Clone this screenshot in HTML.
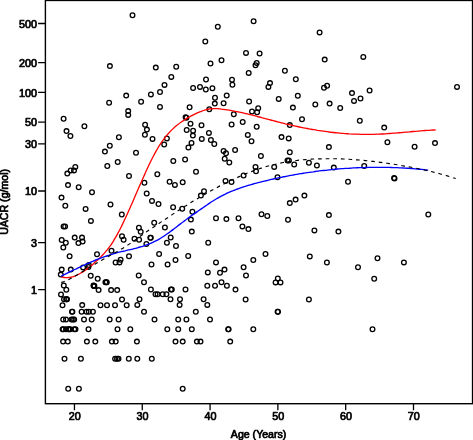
<!DOCTYPE html>
<html><head><meta charset="utf-8"><title>UACR vs Age</title>
<style>html,body{margin:0;padding:0;background:#fff;overflow:hidden}body{width:473px;height:440px;font-family:"Liberation Sans",sans-serif}svg{display:block}</style>
</head><body>
<svg width="473" height="440" viewBox="0 0 473 440">
<rect width="473" height="440" fill="#fff"/>
<g fill="none" stroke="#000" stroke-width="1.3"><circle cx="109.9" cy="66.1" r="2.35"/><circle cx="132.5" cy="15.3" r="2.35"/><circle cx="205.3" cy="41.5" r="2.35"/><circle cx="210.5" cy="63.5" r="2.35"/><circle cx="155.8" cy="67.6" r="2.35"/><circle cx="176.2" cy="66.7" r="2.35"/><circle cx="171.3" cy="76.9" r="2.35"/><circle cx="206.0" cy="79.5" r="2.35"/><circle cx="217.8" cy="26.7" r="2.35"/><circle cx="253.6" cy="21.3" r="2.35"/><circle cx="246.0" cy="52.9" r="2.35"/><circle cx="259.6" cy="53.5" r="2.35"/><circle cx="221.5" cy="60.2" r="2.35"/><circle cx="256.7" cy="62.9" r="2.35"/><circle cx="255.5" cy="65.3" r="2.35"/><circle cx="248.7" cy="72.9" r="2.35"/><circle cx="284.9" cy="70.7" r="2.35"/><circle cx="232.0" cy="79.8" r="2.35"/><circle cx="295.8" cy="79.2" r="2.35"/><circle cx="319.6" cy="32.4" r="2.35"/><circle cx="324.7" cy="59.6" r="2.35"/><circle cx="363.3" cy="56.9" r="2.35"/><circle cx="126.2" cy="95.6" r="2.35"/><circle cx="109.1" cy="102.7" r="2.35"/><circle cx="128.2" cy="111.1" r="2.35"/><circle cx="128.2" cy="114.9" r="2.35"/><circle cx="63.6" cy="118.7" r="2.35"/><circle cx="84.4" cy="126.2" r="2.35"/><circle cx="66.5" cy="131.1" r="2.35"/><circle cx="70.4" cy="136.0" r="2.35"/><circle cx="118.9" cy="137.3" r="2.35"/><circle cx="109.8" cy="145.8" r="2.35"/><circle cx="104.9" cy="151.6" r="2.35"/><circle cx="117.7" cy="162.0" r="2.35"/><circle cx="164.5" cy="84.9" r="2.35"/><circle cx="193.1" cy="88.0" r="2.35"/><circle cx="200.0" cy="86.9" r="2.35"/><circle cx="205.8" cy="89.5" r="2.35"/><circle cx="212.4" cy="88.2" r="2.35"/><circle cx="160.0" cy="92.0" r="2.35"/><circle cx="150.9" cy="94.4" r="2.35"/><circle cx="215.0" cy="97.7" r="2.35"/><circle cx="141.1" cy="101.8" r="2.35"/><circle cx="160.0" cy="106.9" r="2.35"/><circle cx="189.6" cy="107.3" r="2.35"/><circle cx="214.8" cy="103.6" r="2.35"/><circle cx="209.3" cy="109.3" r="2.35"/><circle cx="185.6" cy="117.2" r="2.35"/><circle cx="186.4" cy="117.8" r="2.35"/><circle cx="190.5" cy="123.8" r="2.35"/><circle cx="201.5" cy="125.3" r="2.35"/><circle cx="145.1" cy="124.7" r="2.35"/><circle cx="146.9" cy="129.6" r="2.35"/><circle cx="144.9" cy="134.7" r="2.35"/><circle cx="152.5" cy="138.9" r="2.35"/><circle cx="186.7" cy="130.0" r="2.35"/><circle cx="193.1" cy="130.7" r="2.35"/><circle cx="192.9" cy="135.6" r="2.35"/><circle cx="208.9" cy="132.9" r="2.35"/><circle cx="166.9" cy="138.4" r="2.35"/><circle cx="201.8" cy="138.9" r="2.35"/><circle cx="210.9" cy="140.0" r="2.35"/><circle cx="214.3" cy="144.0" r="2.35"/><circle cx="191.5" cy="142.9" r="2.35"/><circle cx="164.2" cy="144.5" r="2.35"/><circle cx="188.4" cy="147.5" r="2.35"/><circle cx="136.0" cy="152.7" r="2.35"/><circle cx="173.3" cy="161.0" r="2.35"/><circle cx="185.1" cy="159.5" r="2.35"/><circle cx="232.4" cy="84.7" r="2.35"/><circle cx="270.0" cy="83.1" r="2.35"/><circle cx="268.4" cy="86.9" r="2.35"/><circle cx="226.7" cy="95.5" r="2.35"/><circle cx="297.8" cy="95.8" r="2.35"/><circle cx="278.7" cy="98.9" r="2.35"/><circle cx="249.1" cy="101.5" r="2.35"/><circle cx="223.6" cy="103.3" r="2.35"/><circle cx="292.9" cy="107.6" r="2.35"/><circle cx="258.2" cy="108.2" r="2.35"/><circle cx="252.0" cy="111.5" r="2.35"/><circle cx="257.1" cy="112.2" r="2.35"/><circle cx="233.8" cy="114.2" r="2.35"/><circle cx="302.0" cy="119.2" r="2.35"/><circle cx="242.7" cy="122.0" r="2.35"/><circle cx="231.6" cy="124.5" r="2.35"/><circle cx="289.8" cy="125.1" r="2.35"/><circle cx="256.7" cy="126.7" r="2.35"/><circle cx="247.8" cy="134.9" r="2.35"/><circle cx="281.5" cy="137.1" r="2.35"/><circle cx="288.7" cy="138.4" r="2.35"/><circle cx="251.5" cy="141.3" r="2.35"/><circle cx="235.1" cy="150.0" r="2.35"/><circle cx="223.6" cy="150.9" r="2.35"/><circle cx="226.0" cy="153.3" r="2.35"/><circle cx="289.8" cy="152.2" r="2.35"/><circle cx="260.9" cy="156.0" r="2.35"/><circle cx="224.7" cy="158.7" r="2.35"/><circle cx="287.5" cy="160.4" r="2.35"/><circle cx="288.9" cy="160.4" r="2.35"/><circle cx="327.1" cy="85.8" r="2.35"/><circle cx="324.0" cy="87.8" r="2.35"/><circle cx="369.6" cy="90.5" r="2.35"/><circle cx="352.0" cy="93.1" r="2.35"/><circle cx="360.5" cy="98.5" r="2.35"/><circle cx="354.0" cy="100.9" r="2.35"/><circle cx="315.3" cy="104.5" r="2.35"/><circle cx="329.6" cy="103.6" r="2.35"/><circle cx="340.2" cy="108.0" r="2.35"/><circle cx="359.8" cy="120.7" r="2.35"/><circle cx="384.2" cy="127.6" r="2.35"/><circle cx="387.4" cy="142.2" r="2.35"/><circle cx="328.9" cy="147.1" r="2.35"/><circle cx="457.0" cy="86.9" r="2.35"/><circle cx="414.6" cy="146.7" r="2.35"/><circle cx="435.0" cy="143.1" r="2.35"/><circle cx="107.3" cy="166.0" r="2.35"/><circle cx="75.3" cy="166.9" r="2.35"/><circle cx="70.7" cy="170.4" r="2.35"/><circle cx="74.0" cy="170.4" r="2.35"/><circle cx="67.3" cy="173.6" r="2.35"/><circle cx="129.0" cy="176.0" r="2.35"/><circle cx="68.0" cy="185.1" r="2.35"/><circle cx="78.7" cy="187.3" r="2.35"/><circle cx="92.0" cy="192.2" r="2.35"/><circle cx="61.5" cy="197.6" r="2.35"/><circle cx="65.3" cy="205.8" r="2.35"/><circle cx="110.5" cy="204.5" r="2.35"/><circle cx="85.6" cy="208.9" r="2.35"/><circle cx="121.8" cy="214.5" r="2.35"/><circle cx="90.9" cy="220.9" r="2.35"/><circle cx="63.6" cy="226.4" r="2.35"/><circle cx="65.1" cy="226.4" r="2.35"/><circle cx="122.0" cy="236.3" r="2.35"/><circle cx="74.7" cy="237.6" r="2.35"/><circle cx="82.0" cy="237.6" r="2.35"/><circle cx="61.7" cy="240.0" r="2.35"/><circle cx="123.6" cy="239.8" r="2.35"/><circle cx="196.0" cy="171.8" r="2.35"/><circle cx="157.3" cy="174.2" r="2.35"/><circle cx="144.4" cy="182.7" r="2.35"/><circle cx="169.6" cy="181.8" r="2.35"/><circle cx="174.9" cy="184.9" r="2.35"/><circle cx="182.7" cy="182.2" r="2.35"/><circle cx="204.0" cy="191.3" r="2.35"/><circle cx="200.9" cy="195.6" r="2.35"/><circle cx="146.7" cy="193.5" r="2.35"/><circle cx="152.0" cy="200.9" r="2.35"/><circle cx="158.5" cy="204.0" r="2.35"/><circle cx="173.1" cy="207.3" r="2.35"/><circle cx="182.2" cy="208.7" r="2.35"/><circle cx="192.4" cy="211.8" r="2.35"/><circle cx="216.0" cy="218.3" r="2.35"/><circle cx="190.9" cy="219.6" r="2.35"/><circle cx="154.2" cy="222.7" r="2.35"/><circle cx="164.9" cy="227.5" r="2.35"/><circle cx="138.9" cy="227.8" r="2.35"/><circle cx="140.7" cy="231.8" r="2.35"/><circle cx="191.8" cy="231.6" r="2.35"/><circle cx="150.3" cy="237.8" r="2.35"/><circle cx="150.8" cy="237.8" r="2.35"/><circle cx="170.7" cy="237.5" r="2.35"/><circle cx="134.5" cy="238.8" r="2.35"/><circle cx="139.1" cy="239.7" r="2.35"/><circle cx="229.3" cy="162.5" r="2.35"/><circle cx="294.2" cy="164.5" r="2.35"/><circle cx="255.5" cy="166.9" r="2.35"/><circle cx="274.2" cy="166.9" r="2.35"/><circle cx="256.0" cy="171.3" r="2.35"/><circle cx="243.6" cy="175.5" r="2.35"/><circle cx="277.5" cy="177.3" r="2.35"/><circle cx="225.5" cy="180.9" r="2.35"/><circle cx="231.5" cy="182.0" r="2.35"/><circle cx="295.6" cy="199.6" r="2.35"/><circle cx="289.8" cy="203.1" r="2.35"/><circle cx="261.5" cy="214.2" r="2.35"/><circle cx="267.3" cy="216.0" r="2.35"/><circle cx="226.4" cy="219.1" r="2.35"/><circle cx="238.5" cy="218.2" r="2.35"/><circle cx="288.0" cy="219.8" r="2.35"/><circle cx="242.4" cy="226.4" r="2.35"/><circle cx="248.4" cy="229.1" r="2.35"/><circle cx="308.9" cy="162.7" r="2.35"/><circle cx="316.9" cy="165.5" r="2.35"/><circle cx="333.8" cy="167.6" r="2.35"/><circle cx="364.2" cy="166.0" r="2.35"/><circle cx="348.0" cy="181.8" r="2.35"/><circle cx="304.4" cy="195.6" r="2.35"/><circle cx="328.9" cy="215.1" r="2.35"/><circle cx="314.4" cy="230.4" r="2.35"/><circle cx="338.4" cy="231.6" r="2.35"/><circle cx="394.1" cy="178.0" r="2.35"/><circle cx="394.5" cy="178.5" r="2.35"/><circle cx="428.3" cy="214.5" r="2.35"/><circle cx="65.8" cy="242.8" r="2.35"/><circle cx="63.3" cy="247.5" r="2.35"/><circle cx="82.6" cy="241.6" r="2.35"/><circle cx="78.4" cy="243.1" r="2.35"/><circle cx="69.6" cy="256.2" r="2.35"/><circle cx="61.7" cy="269.6" r="2.35"/><circle cx="70.8" cy="269.6" r="2.35"/><circle cx="83.1" cy="267.4" r="2.35"/><circle cx="60.8" cy="274.6" r="2.35"/><circle cx="97.0" cy="254.2" r="2.35"/><circle cx="111.5" cy="250.7" r="2.35"/><circle cx="129.0" cy="256.2" r="2.35"/><circle cx="120.6" cy="259.8" r="2.35"/><circle cx="119.5" cy="262.4" r="2.35"/><circle cx="115.6" cy="262.5" r="2.35"/><circle cx="88.8" cy="265.1" r="2.35"/><circle cx="88.4" cy="266.9" r="2.35"/><circle cx="90.7" cy="275.7" r="2.35"/><circle cx="63.8" cy="285.5" r="2.35"/><circle cx="66.3" cy="289.8" r="2.35"/><circle cx="61.0" cy="294.4" r="2.35"/><circle cx="62.5" cy="305.3" r="2.35"/><circle cx="82.2" cy="305.1" r="2.35"/><circle cx="97.7" cy="278.7" r="2.35"/><circle cx="105.4" cy="282.2" r="2.35"/><circle cx="106.1" cy="282.2" r="2.35"/><circle cx="106.8" cy="282.2" r="2.35"/><circle cx="93.5" cy="285.6" r="2.35"/><circle cx="94.0" cy="285.8" r="2.35"/><circle cx="94.4" cy="286.0" r="2.35"/><circle cx="93.8" cy="286.1" r="2.35"/><circle cx="98.6" cy="290.1" r="2.35"/><circle cx="111.1" cy="290.1" r="2.35"/><circle cx="117.2" cy="290.1" r="2.35"/><circle cx="122.0" cy="299.5" r="2.35"/><circle cx="100.5" cy="305.3" r="2.35"/><circle cx="107.0" cy="305.3" r="2.35"/><circle cx="115.0" cy="305.3" r="2.35"/><circle cx="126.7" cy="305.3" r="2.35"/><circle cx="64.0" cy="299.3" r="2.35"/><circle cx="66.2" cy="299.3" r="2.35"/><circle cx="66.6" cy="299.3" r="2.35"/><circle cx="67.0" cy="299.3" r="2.35"/><circle cx="72.0" cy="311.7" r="2.35"/><circle cx="72.4" cy="311.7" r="2.35"/><circle cx="81.6" cy="311.7" r="2.35"/><circle cx="86.5" cy="311.7" r="2.35"/><circle cx="88.8" cy="311.7" r="2.35"/><circle cx="92.9" cy="311.7" r="2.35"/><circle cx="63.2" cy="319.5" r="2.35"/><circle cx="66.0" cy="319.5" r="2.35"/><circle cx="71.5" cy="319.5" r="2.35"/><circle cx="72.9" cy="319.5" r="2.35"/><circle cx="74.2" cy="319.5" r="2.35"/><circle cx="84.0" cy="319.5" r="2.35"/><circle cx="91.7" cy="319.5" r="2.35"/><circle cx="109.7" cy="319.5" r="2.35"/><circle cx="118.6" cy="319.5" r="2.35"/><circle cx="154.5" cy="319.5" r="2.35"/><circle cx="178.2" cy="319.5" r="2.35"/><circle cx="186.4" cy="319.5" r="2.35"/><circle cx="210.0" cy="319.5" r="2.35"/><circle cx="62.6" cy="329.2" r="2.35"/><circle cx="63.4" cy="329.2" r="2.35"/><circle cx="66.0" cy="329.2" r="2.35"/><circle cx="68.3" cy="329.2" r="2.35"/><circle cx="69.2" cy="329.2" r="2.35"/><circle cx="70.1" cy="329.2" r="2.35"/><circle cx="74.2" cy="329.2" r="2.35"/><circle cx="75.5" cy="329.2" r="2.35"/><circle cx="88.5" cy="329.2" r="2.35"/><circle cx="117.5" cy="329.2" r="2.35"/><circle cx="130.3" cy="329.2" r="2.35"/><circle cx="167.3" cy="329.2" r="2.35"/><circle cx="178.2" cy="329.2" r="2.35"/><circle cx="191.8" cy="329.2" r="2.35"/><circle cx="228.2" cy="329.2" r="2.35"/><circle cx="228.6" cy="329.2" r="2.35"/><circle cx="253.3" cy="329.2" r="2.35"/><circle cx="372.5" cy="329.2" r="2.35"/><circle cx="63.1" cy="341.6" r="2.35"/><circle cx="67.8" cy="341.6" r="2.35"/><circle cx="86.9" cy="341.6" r="2.35"/><circle cx="95.3" cy="341.6" r="2.35"/><circle cx="111.9" cy="341.6" r="2.35"/><circle cx="115.7" cy="341.6" r="2.35"/><circle cx="136.9" cy="341.6" r="2.35"/><circle cx="175.5" cy="341.6" r="2.35"/><circle cx="182.7" cy="341.6" r="2.35"/><circle cx="196.9" cy="341.6" r="2.35"/><circle cx="200.5" cy="341.6" r="2.35"/><circle cx="230.2" cy="341.6" r="2.35"/><circle cx="64.5" cy="358.7" r="2.35"/><circle cx="80.9" cy="358.7" r="2.35"/><circle cx="115.1" cy="358.7" r="2.35"/><circle cx="117.0" cy="358.7" r="2.35"/><circle cx="118.5" cy="358.7" r="2.35"/><circle cx="128.8" cy="358.7" r="2.35"/><circle cx="137.3" cy="358.7" r="2.35"/><circle cx="151.8" cy="358.7" r="2.35"/><circle cx="68.2" cy="388.7" r="2.35"/><circle cx="78.9" cy="388.7" r="2.35"/><circle cx="182.7" cy="388.7" r="2.35"/><circle cx="146.4" cy="244.0" r="2.35"/><circle cx="166.9" cy="242.7" r="2.35"/><circle cx="176.0" cy="246.0" r="2.35"/><circle cx="208.2" cy="242.7" r="2.35"/><circle cx="159.1" cy="254.0" r="2.35"/><circle cx="188.2" cy="256.0" r="2.35"/><circle cx="175.5" cy="260.0" r="2.35"/><circle cx="151.5" cy="264.5" r="2.35"/><circle cx="167.6" cy="264.5" r="2.35"/><circle cx="216.0" cy="262.4" r="2.35"/><circle cx="207.8" cy="272.4" r="2.35"/><circle cx="138.7" cy="275.5" r="2.35"/><circle cx="144.0" cy="282.2" r="2.35"/><circle cx="207.3" cy="285.8" r="2.35"/><circle cx="215.0" cy="285.8" r="2.35"/><circle cx="150.9" cy="289.5" r="2.35"/><circle cx="170.9" cy="289.5" r="2.35"/><circle cx="171.8" cy="289.5" r="2.35"/><circle cx="185.5" cy="289.5" r="2.35"/><circle cx="155.5" cy="294.2" r="2.35"/><circle cx="157.6" cy="294.2" r="2.35"/><circle cx="162.7" cy="294.2" r="2.35"/><circle cx="166.4" cy="294.2" r="2.35"/><circle cx="170.5" cy="299.3" r="2.35"/><circle cx="180.0" cy="299.3" r="2.35"/><circle cx="203.6" cy="299.3" r="2.35"/><circle cx="139.5" cy="299.3" r="2.35"/><circle cx="137.3" cy="304.9" r="2.35"/><circle cx="179.6" cy="304.9" r="2.35"/><circle cx="207.3" cy="304.9" r="2.35"/><circle cx="144.0" cy="311.8" r="2.35"/><circle cx="195.8" cy="311.8" r="2.35"/><circle cx="265.5" cy="254.0" r="2.35"/><circle cx="253.3" cy="260.0" r="2.35"/><circle cx="243.6" cy="267.3" r="2.35"/><circle cx="224.5" cy="269.6" r="2.35"/><circle cx="220.0" cy="272.7" r="2.35"/><circle cx="246.0" cy="275.5" r="2.35"/><circle cx="277.8" cy="278.5" r="2.35"/><circle cx="275.6" cy="282.4" r="2.35"/><circle cx="280.5" cy="282.4" r="2.35"/><circle cx="221.5" cy="282.2" r="2.35"/><circle cx="226.9" cy="285.8" r="2.35"/><circle cx="235.5" cy="289.6" r="2.35"/><circle cx="245.6" cy="299.5" r="2.35"/><circle cx="277.6" cy="311.8" r="2.35"/><circle cx="278.0" cy="311.8" r="2.35"/><circle cx="309.8" cy="256.4" r="2.35"/><circle cx="326.9" cy="262.5" r="2.35"/><circle cx="377.5" cy="258.2" r="2.35"/><circle cx="358.0" cy="267.3" r="2.35"/><circle cx="374.2" cy="278.7" r="2.35"/><circle cx="308.9" cy="299.5" r="2.35"/><circle cx="403.9" cy="262.4" r="2.35"/></g>
<path d="M61.3 276.8C62.0 276.9 64.0 277.5 65.3 277.6C66.6 277.7 68.0 277.7 69.3 277.5C70.6 277.3 72.0 277.0 73.3 276.6C74.6 276.1 76.0 275.6 77.3 275.0C78.6 274.4 80.0 273.6 81.3 272.8C82.6 272.0 84.0 271.2 85.3 270.2C86.6 269.3 88.0 268.3 89.3 267.2C90.6 266.2 92.0 265.1 93.3 263.9C94.6 262.7 96.0 261.5 97.3 260.3C98.6 259.0 100.0 257.7 101.3 256.4C102.6 255.0 104.0 253.6 105.3 252.1C106.6 250.6 108.0 249.0 109.3 247.2C110.6 245.4 112.0 243.4 113.3 241.3C114.6 239.1 116.0 236.8 117.3 234.4C118.6 232.0 120.0 229.4 121.3 226.7C122.6 224.0 124.0 221.2 125.3 218.3C126.6 215.5 128.0 212.5 129.3 209.5C130.6 206.5 132.0 203.5 133.3 200.4C134.6 197.3 136.0 194.2 137.3 191.1C138.6 188.1 140.0 185.0 141.3 181.9C142.6 178.9 144.0 175.9 145.3 172.9C146.6 170.0 148.0 167.1 149.3 164.3C150.6 161.5 152.0 158.8 153.3 156.3C154.6 153.7 156.0 151.3 157.3 149.0C158.6 146.8 160.0 144.6 161.3 142.7C162.6 140.7 164.0 138.9 165.3 137.2C166.6 135.5 168.0 133.9 169.3 132.5C170.6 131.0 172.0 129.7 173.3 128.4C174.6 127.2 176.0 126.0 177.3 125.0C178.6 123.9 180.0 122.9 181.3 122.0C182.6 121.0 184.0 120.2 185.3 119.4C186.6 118.5 188.0 117.8 189.3 117.0C190.6 116.3 192.0 115.6 193.3 114.9C194.6 114.2 196.0 113.5 197.3 112.9C198.6 112.3 200.0 111.8 201.3 111.3C202.6 110.8 204.0 110.3 205.3 109.9C206.6 109.6 208.0 109.2 209.3 109.0C210.6 108.8 212.0 108.7 213.3 108.6C214.6 108.6 216.0 108.6 217.3 108.7C218.6 108.8 220.0 108.9 221.3 109.1C222.6 109.2 224.0 109.4 225.3 109.6C226.6 109.8 228.0 110.0 229.3 110.2C230.6 110.4 232.0 110.7 233.3 110.9C234.6 111.2 236.0 111.4 237.3 111.7C238.6 112.0 240.0 112.2 241.3 112.5C242.6 112.8 244.0 113.1 245.3 113.5C246.6 113.8 248.0 114.1 249.3 114.4C250.6 114.7 252.0 115.1 253.3 115.4C254.6 115.8 256.0 116.1 257.3 116.5C258.6 116.8 260.0 117.2 261.3 117.5C262.6 117.9 264.0 118.2 265.3 118.6C266.6 118.9 268.0 119.3 269.3 119.6C270.6 120.0 272.0 120.4 273.3 120.7C274.6 121.1 276.0 121.4 277.3 121.8C278.6 122.1 280.0 122.4 281.3 122.8C282.6 123.1 284.0 123.4 285.3 123.8C286.6 124.1 288.0 124.4 289.3 124.7C290.6 125.0 292.0 125.3 293.3 125.6C294.6 125.9 296.0 126.2 297.3 126.5C298.6 126.8 300.0 127.1 301.3 127.3C302.6 127.6 304.0 127.9 305.3 128.1C306.6 128.4 308.0 128.6 309.3 128.9C310.6 129.1 312.0 129.4 313.3 129.6C314.6 129.8 316.0 130.0 317.3 130.3C318.6 130.5 320.0 130.7 321.3 130.9C322.6 131.1 324.0 131.3 325.3 131.4C326.6 131.6 328.0 131.8 329.3 132.0C330.6 132.1 332.0 132.3 333.3 132.5C334.6 132.6 336.0 132.7 337.3 132.9C338.6 133.0 340.0 133.1 341.3 133.3C342.6 133.4 344.0 133.5 345.3 133.6C346.6 133.7 348.0 133.8 349.3 133.9C350.6 133.9 352.0 134.0 353.3 134.1C354.6 134.1 356.0 134.2 357.3 134.2C358.6 134.3 360.0 134.3 361.3 134.3C362.6 134.4 364.0 134.4 365.3 134.4C366.6 134.4 368.0 134.4 369.3 134.4C370.6 134.4 372.0 134.4 373.3 134.3C374.6 134.3 376.0 134.3 377.3 134.2C378.6 134.2 380.0 134.1 381.3 134.0C382.6 134.0 384.0 133.9 385.3 133.8C386.6 133.7 388.0 133.6 389.3 133.5C390.6 133.4 392.0 133.3 393.3 133.2C394.6 133.1 396.0 133.0 397.3 132.9C398.6 132.8 400.0 132.7 401.3 132.6C402.6 132.5 404.0 132.3 405.3 132.2C406.6 132.1 408.0 132.0 409.3 131.9C410.6 131.7 412.0 131.6 413.3 131.5C414.6 131.4 416.0 131.3 417.3 131.2C418.6 131.0 420.0 130.9 421.3 130.8C422.6 130.7 424.0 130.6 425.3 130.5C426.6 130.4 428.0 130.4 429.3 130.3C430.6 130.2 432.2 130.1 433.3 130.0C434.4 130.0 435.3 130.0 435.7 129.9" fill="none" stroke="#f00" stroke-width="1.3"/>
<path d="M61.3 276.2C62.0 275.8 64.0 274.8 65.3 274.2C66.6 273.5 68.0 272.8 69.3 272.2C70.6 271.5 72.0 270.9 73.3 270.2C74.6 269.6 76.0 268.9 77.3 268.3C78.6 267.7 80.0 267.0 81.3 266.4C82.6 265.8 84.0 265.2 85.3 264.6C86.6 264.0 88.0 263.4 89.3 262.8C90.6 262.2 92.0 261.6 93.3 261.1C94.6 260.5 96.0 260.0 97.3 259.4C98.6 258.9 100.0 258.4 101.3 257.9C102.6 257.4 104.0 256.9 105.3 256.4C106.6 256.0 108.0 255.5 109.3 255.1C110.6 254.6 112.0 254.2 113.3 253.8C114.6 253.4 116.0 253.1 117.3 252.7C118.6 252.4 120.0 252.0 121.3 251.7C122.6 251.4 124.0 251.1 125.3 250.8C126.6 250.4 128.0 250.1 129.3 249.8C130.6 249.5 132.0 249.2 133.3 248.8C134.6 248.5 136.0 248.2 137.3 247.8C138.6 247.5 140.0 247.1 141.3 246.7C142.6 246.3 144.0 245.8 145.3 245.4C146.6 244.9 148.0 244.4 149.3 243.9C150.6 243.4 152.0 242.8 153.3 242.2C154.6 241.5 156.0 240.9 157.3 240.2C158.6 239.4 160.0 238.7 161.3 237.8C162.6 237.0 164.0 236.1 165.3 235.2C166.6 234.3 168.0 233.3 169.3 232.4C170.6 231.4 172.0 230.4 173.3 229.4C174.6 228.3 176.0 227.3 177.3 226.3C178.6 225.2 180.0 224.2 181.3 223.2C182.6 222.2 184.0 221.2 185.3 220.2C186.6 219.2 188.0 218.2 189.3 217.2C190.6 216.3 192.0 215.3 193.3 214.4C194.6 213.5 196.0 212.6 197.3 211.6C198.6 210.7 200.0 209.8 201.3 208.9C202.6 208.0 204.0 207.0 205.3 206.1C206.6 205.2 208.0 204.3 209.3 203.4C210.6 202.5 212.0 201.6 213.3 200.8C214.6 199.9 216.0 199.1 217.3 198.3C218.6 197.6 220.0 196.8 221.3 196.1C222.6 195.4 224.0 194.7 225.3 194.1C226.6 193.4 228.0 192.8 229.3 192.2C230.6 191.7 232.0 191.1 233.3 190.6C234.6 190.0 236.0 189.5 237.3 189.0C238.6 188.5 240.0 188.1 241.3 187.6C242.6 187.2 244.0 186.7 245.3 186.3C246.6 185.9 248.0 185.5 249.3 185.1C250.6 184.7 252.0 184.4 253.3 184.0C254.6 183.6 256.0 183.3 257.3 182.9C258.6 182.6 260.0 182.2 261.3 181.9C262.6 181.6 264.0 181.2 265.3 180.9C266.6 180.6 268.0 180.3 269.3 179.9C270.6 179.6 272.0 179.3 273.3 179.0C274.6 178.7 276.0 178.4 277.3 178.1C278.6 177.8 280.0 177.6 281.3 177.3C282.6 177.0 284.0 176.7 285.3 176.5C286.6 176.2 288.0 176.0 289.3 175.7C290.6 175.4 292.0 175.2 293.3 175.0C294.6 174.7 296.0 174.5 297.3 174.3C298.6 174.0 300.0 173.8 301.3 173.6C302.6 173.4 304.0 173.1 305.3 172.9C306.6 172.7 308.0 172.5 309.3 172.3C310.6 172.1 312.0 171.9 313.3 171.8C314.6 171.6 316.0 171.4 317.3 171.2C318.6 171.0 320.0 170.9 321.3 170.7C322.6 170.6 324.0 170.4 325.3 170.3C326.6 170.1 328.0 170.0 329.3 169.8C330.6 169.7 332.0 169.5 333.3 169.4C334.6 169.3 336.0 169.2 337.3 169.0C338.6 168.9 340.0 168.8 341.3 168.7C342.6 168.6 344.0 168.5 345.3 168.4C346.6 168.3 348.0 168.2 349.3 168.2C350.6 168.1 352.0 168.0 353.3 167.9C354.6 167.9 356.0 167.8 357.3 167.7C358.6 167.7 360.0 167.6 361.3 167.6C362.6 167.5 364.0 167.5 365.3 167.5C366.6 167.4 368.0 167.4 369.3 167.4C370.6 167.3 372.0 167.3 373.3 167.3C374.6 167.3 376.0 167.3 377.3 167.3C378.6 167.3 380.0 167.3 381.3 167.3C382.6 167.3 384.0 167.3 385.3 167.4C386.6 167.4 388.0 167.4 389.3 167.4C390.6 167.5 392.0 167.5 393.3 167.6C394.6 167.6 396.0 167.6 397.3 167.7C398.6 167.8 400.0 167.8 401.3 167.9C402.6 168.0 404.0 168.0 405.3 168.1C406.6 168.2 408.0 168.3 409.3 168.4C410.6 168.5 412.0 168.6 413.3 168.7C414.6 168.8 416.0 168.9 417.3 169.0C418.6 169.1 420.0 169.2 421.3 169.4C422.6 169.5 424.2 169.6 425.3 169.8C426.4 169.9 427.7 170.0 428.2 170.1" fill="none" stroke="#00f" stroke-width="1.35"/>
<path d="M61.3 282.6C62.0 282.3 64.0 281.6 65.3 281.0C66.6 280.4 68.0 279.8 69.3 279.2C70.6 278.5 72.0 277.8 73.3 277.1C74.6 276.4 76.0 275.6 77.3 274.8C78.6 274.1 80.0 273.2 81.3 272.4C82.6 271.6 84.0 270.8 85.3 270.0C86.6 269.2 88.0 268.3 89.3 267.5C90.6 266.7 92.0 265.9 93.3 265.1C94.6 264.3 96.0 263.5 97.3 262.7C98.6 261.9 100.0 261.2 101.3 260.4C102.6 259.7 104.0 258.9 105.3 258.2C106.6 257.4 108.0 256.7 109.3 256.0C110.6 255.2 112.0 254.5 113.3 253.7C114.6 253.0 116.0 252.2 117.3 251.5C118.6 250.7 120.0 249.9 121.3 249.1C122.6 248.3 124.0 247.5 125.3 246.7C126.6 245.8 128.0 245.0 129.3 244.1C130.6 243.2 132.0 242.3 133.3 241.3C134.6 240.4 136.0 239.4 137.3 238.5C138.6 237.5 140.0 236.5 141.3 235.5C142.6 234.6 144.0 233.6 145.3 232.7C146.6 231.7 148.0 230.8 149.3 229.9C150.6 229.0 152.0 228.1 153.3 227.2C154.6 226.3 156.0 225.5 157.3 224.6C158.6 223.7 160.0 222.8 161.3 221.9C162.6 221.0 164.0 220.1 165.3 219.2C166.6 218.3 168.0 217.5 169.3 216.6C170.6 215.7 172.0 214.8 173.3 213.9C174.6 213.0 176.0 212.1 177.3 211.2C178.6 210.4 180.0 209.5 181.3 208.6C182.6 207.8 184.0 206.9 185.3 206.1C186.6 205.2 188.0 204.4 189.3 203.5C190.6 202.7 192.0 201.9 193.3 201.1C194.6 200.3 196.0 199.5 197.3 198.7C198.6 197.9 200.0 197.1 201.3 196.3C202.6 195.5 204.0 194.7 205.3 194.0C206.6 193.2 208.0 192.5 209.3 191.7C210.6 191.0 212.0 190.2 213.3 189.5C214.6 188.8 216.0 188.1 217.3 187.4C218.6 186.6 220.0 185.9 221.3 185.2C222.6 184.6 224.0 183.9 225.3 183.2C226.6 182.5 228.0 181.9 229.3 181.2C230.6 180.6 232.0 179.9 233.3 179.3C234.6 178.7 236.0 178.1 237.3 177.5C238.6 176.9 240.0 176.3 241.3 175.7C242.6 175.1 244.0 174.5 245.3 174.0C246.6 173.4 248.0 172.9 249.3 172.4C250.6 171.9 252.0 171.4 253.3 170.9C254.6 170.4 256.0 169.9 257.3 169.4C258.6 169.0 260.0 168.5 261.3 168.1C262.6 167.7 264.0 167.3 265.3 166.9C266.6 166.5 268.0 166.1 269.3 165.7C270.6 165.4 272.0 165.0 273.3 164.7C274.6 164.4 276.0 164.1 277.3 163.8C278.6 163.5 280.0 163.2 281.3 162.9C282.6 162.7 284.0 162.4 285.3 162.2C286.6 161.9 288.0 161.7 289.3 161.5C290.6 161.3 292.0 161.1 293.3 160.9C294.6 160.7 296.0 160.5 297.3 160.4C298.6 160.2 300.0 160.1 301.3 159.9C302.6 159.8 304.0 159.7 305.3 159.6C306.6 159.5 308.0 159.4 309.3 159.3C310.6 159.2 312.0 159.1 313.3 159.0C314.6 159.0 316.0 158.9 317.3 158.9C318.6 158.8 320.0 158.8 321.3 158.8C322.6 158.7 324.0 158.7 325.3 158.7C326.6 158.7 328.0 158.7 329.3 158.7C330.6 158.7 332.0 158.7 333.3 158.7C334.6 158.7 336.0 158.8 337.3 158.8C338.6 158.8 340.0 158.9 341.3 158.9C342.6 159.0 344.0 159.0 345.3 159.1C346.6 159.2 348.0 159.2 349.3 159.3C350.6 159.4 352.0 159.5 353.3 159.6C354.6 159.7 356.0 159.8 357.3 159.9C358.6 160.0 360.0 160.1 361.3 160.2C362.6 160.3 364.0 160.4 365.3 160.6C366.6 160.7 368.0 160.8 369.3 161.0C370.6 161.1 372.0 161.3 373.3 161.4C374.6 161.6 376.0 161.8 377.3 161.9C378.6 162.1 380.0 162.3 381.3 162.4C382.6 162.6 384.0 162.8 385.3 163.0C386.6 163.2 388.0 163.4 389.3 163.6C390.6 163.8 392.0 164.0 393.3 164.2C394.6 164.4 396.0 164.6 397.3 164.8C398.6 165.0 400.0 165.3 401.3 165.5C402.6 165.7 404.0 166.0 405.3 166.2C406.6 166.4 408.0 166.7 409.3 166.9C410.6 167.2 412.0 167.4 413.3 167.7C414.6 167.9 416.0 168.2 417.3 168.5C418.6 168.7 420.0 169.0 421.3 169.3C422.6 169.6 424.0 169.9 425.3 170.2C426.6 170.5 428.0 170.8 429.3 171.1C430.6 171.4 432.0 171.7 433.3 172.1C434.6 172.4 436.0 172.7 437.3 173.1C438.6 173.4 440.0 173.8 441.3 174.2C442.6 174.5 444.0 174.9 445.3 175.3C446.6 175.7 448.0 176.1 449.3 176.5C450.6 176.9 452.2 177.4 453.3 177.8C454.4 178.1 455.3 178.4 455.7 178.6" fill="none" stroke="#000" stroke-width="1.15" stroke-dasharray="3.7 3.9"/>
<rect x="45.4" y="0.45" width="427.15000000000003" height="403.25" fill="none" stroke="#000" stroke-width="1.4"/>
<path d="M74.45 403.70v6.6M142.26 403.70v6.6M210.07 403.70v6.6M277.88 403.70v6.6M345.69 403.70v6.6M413.50 403.70v6.6M45.40 23.48h-7.3M45.40 62.72h-7.3M45.40 92.40h-7.3M45.40 122.08h-7.3M45.40 143.96h-7.3M45.40 191.00h-7.3M45.40 242.56h-7.3M45.40 289.60h-7.3" fill="none" stroke="#000" stroke-width="1.3"/>
<g font-family="'Liberation Sans', sans-serif" font-size="10.6" fill="#000" stroke="#000" stroke-width="0.72" stroke-linejoin="round" style="filter:grayscale(1)">
<text x="74.8" y="420.3" text-anchor="middle" font-size="10.8">20</text>
<text x="142.6" y="420.3" text-anchor="middle" font-size="10.8">30</text>
<text x="210.4" y="420.3" text-anchor="middle" font-size="10.8">40</text>
<text x="278.2" y="420.3" text-anchor="middle" font-size="10.8">50</text>
<text x="346.0" y="420.3" text-anchor="middle" font-size="10.8">60</text>
<text x="413.8" y="420.3" text-anchor="middle" font-size="10.8">70</text>
<text x="36.9" y="27.7" text-anchor="end" font-size="10.8">500</text>
<text x="36.9" y="66.9" text-anchor="end" font-size="10.8">200</text>
<text x="36.9" y="96.6" text-anchor="end" font-size="10.8">100</text>
<text x="36.9" y="126.3" text-anchor="end" font-size="10.8">50</text>
<text x="36.9" y="148.2" text-anchor="end" font-size="10.8">30</text>
<text x="36.9" y="195.2" text-anchor="end" font-size="10.8">10</text>
<text x="36.9" y="246.8" text-anchor="end" font-size="10.8">3</text>
<text x="36.9" y="293.8" text-anchor="end" font-size="10.8">1</text>
<text x="258.6" y="437.7" text-anchor="middle">Age (Years)</text>
<text transform="translate(8.1 201.9) rotate(-90)" text-anchor="middle">UACR (g/mol)</text>
</g></svg>
</body></html>
